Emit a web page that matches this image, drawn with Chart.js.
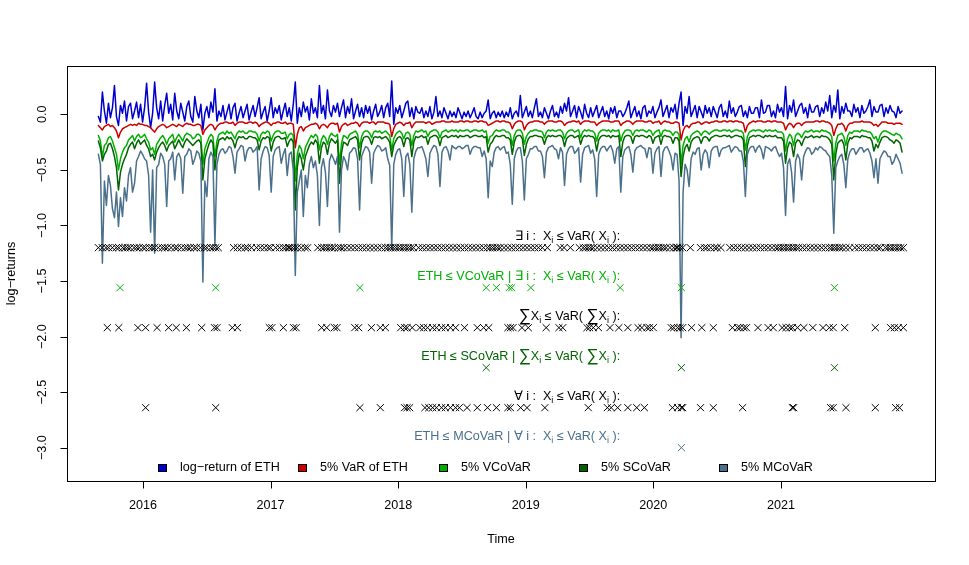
<!DOCTYPE html>
<html>
<head>
<meta charset="utf-8">
<script src="https://cdn.jsdelivr.net/npm/chart.js@4.4.1/dist/chart.umd.min.js"></script>
<style>
  html, body { margin: 0; padding: 0; background: #fff; }
  canvas { display: block; }
</style>
</head>
<body>
<canvas id="covarChart" width="969" height="565"></canvas>
<script>
// time index (decimal years), one point every ~5.75 days
const startYear = 2015.65
const stepYear = 0.01575
const yearTicks = [2016, 2017, 2018, 2019, 2020, 2021]
const valueTicks = [0, -0.5, -1, -1.5, -2, -2.5, -3]
const valueTickLabels = ['0.0', '\u22120.5', '\u22121.0', '\u22121.5', '\u22122.0', '\u22122.5', '\u22123.0']

const ethReturn = [
  -0.02, -0.07, 0.20, 0.03, -0.08, 0.10, -0.03, 0.06, 0.26, -0.02, -0.10, 0.08, 0.01, 0.12, -0.06, 0.07, 0.10, -0.04, 0.03, 0.11,
  -0.03, 0.09, -0.07, 0.06, 0.28, 0.02, -0.12, 0.01, 0.29, 0.06, -0.04, 0.12, -0.06, 0.08, 0.19, 0.01, 0.09, -0.05, 0.19, 0.03,
  -0.04, 0.10, 0.02, -0.06, 0.07, 0.12, -0.02, -0.07, 0.16, 0.03, -0.03, 0.09, -0.14, 0.01, 0.07, -0.03, 0.11, 0.02, 0.23, -0.06,
  0.03, -0.02, 0.08, -0.05, 0.02, 0.09, -0.04, 0.06, 0.10, -0.06, 0.01, 0.07, -0.03, 0.03, 0.09, -0.05, 0.02, 0.08, -0.02, 0.06,
  0.15, -0.04, 0.02, 0.07, -0.06, 0.03, 0.15, -0.03, 0.06, 0.01, 0.08, -0.05, 0.03, 0.10, -0.02, 0.06, -0.06, 0.09, 0.29, -0.08,
  0.06, -0.02, 0.11, 0.02, 0.07, -0.05, 0.14, 0.01, 0.06, -0.03, 0.26, 0.01, 0.08, -0.04, 0.22, 0.03, -0.02, 0.08, 0.02, 0.10,
  -0.02, 0.06, 0.13, -0.03, 0.07, 0.01, 0.14, -0.04, 0.03, 0.09, -0.02, 0.06, -0.03, 0.08, 0.01, 0.07, -0.05, 0.03, 0.09, -0.02,
  0.02, 0.08, -0.03, 0.06, 0.10, -0.02, 0.30, -0.09, 0.06, 0.01, 0.08, -0.03, 0.03, 0.10, 0.12, -0.02, 0.06, -0.04, 0.07, 0.02,
  0.01, 0.06, -0.03, 0.03, -0.02, 0.07, -0.04, 0.02, 0.16, -0.02, 0.03, -0.03, 0.06, 0.01, -0.04, 0.03, -0.02, 0.02, -0.03, 0.06,
  0.01, -0.04, 0.02, -0.02, 0.03, -0.03, 0.01, 0.06, -0.02, -0.04, 0.02, -0.03, 0.01, 0.03, 0.13, -0.04, 0.01, 0.03, -0.03, 0.02,
  -0.02, 0.03, -0.03, 0.02, -0.02, 0.06, -0.04, 0.01, 0.03, -0.02, 0.17, -0.03, 0.02, 0.07, -0.02, 0.03, -0.03, 0.06, 0.14, -0.02,
  0.02, -0.03, 0.06, 0.01, -0.04, 0.03, 0.08, -0.02, 0.02, -0.03, 0.07, 0.01, 0.10, 0.03, 0.15, -0.02, 0.03, 0.08, -0.03, 0.07,
  0.02, -0.04, 0.09, 0.01, -0.03, 0.06, -0.02, 0.03, 0.08, -0.03, 0.02, 0.07, -0.02, 0.03, -0.04, 0.06, 0.01, 0.07, -0.03, 0.03,
  0.03, -0.02, 0.01, 0.06, 0.12, -0.03, 0.02, 0.07, -0.02, 0.03, -0.04, 0.06, 0.08, -0.02, 0.03, 0.01, 0.07, -0.03, 0.02, 0.06,
  0.13, -0.02, 0.03, 0.08, -0.03, 0.06, 0.02, 0.09, -0.04, 0.10, 0.20, -0.10, 0.07, 0.01, 0.16, -0.02, 0.03, 0.08, -0.03, 0.07,
  0.02, -0.03, 0.08, 0.01, 0.06, -0.02, 0.07, 0.02, -0.03, 0.06, 0.09, -0.02, 0.03, -0.03, 0.12, 0.01, 0.06, -0.02, 0.02, 0.07,
  0.08, -0.02, 0.03, -0.03, 0.07, 0.01, 0.01, 0.06, 0.06, -0.03, 0.13, 0.01, 0.02, 0.08, 0.08, -0.02, 0.03, -0.03, 0.09, 0.02,
  0.06, -0.02, 0.25, -0.04, 0.08, 0.02, 0.13, -0.02, 0.03, 0.08, 0.10, 0.01, 0.06, -0.03, 0.09, 0.02, 0.02, 0.07, 0.08, -0.02,
  0.06, 0.01, 0.11, 0.03, 0.17, -0.03, 0.08, 0.02, 0.22, -0.04, 0.07, 0.01, 0.10, 0.03, 0.03, -0.02, 0.09, 0.02, 0.06, -0.03,
  0.08, 0.01, 0.03, 0.07, 0.13, -0.02, 0.07, 0.02, 0.02, 0.08, 0.09, -0.02, 0.06, 0.01, 0.08, 0.03, 0.02, -0.03, 0.07, 0.01,
  0.03
]

const varEth = [
  -0.10, -0.12, -0.14, -0.11, -0.10, -0.09, -0.11, -0.10, -0.12, -0.15, -0.21, -0.16, -0.13, -0.12, -0.11, -0.10, -0.09, -0.10, -0.09, -0.10,
  -0.08, -0.09, -0.09, -0.10, -0.10, -0.11, -0.12, -0.14, -0.16, -0.13, -0.11, -0.10, -0.09, -0.10, -0.12, -0.11, -0.10, -0.09, -0.10, -0.11,
  -0.09, -0.10, -0.11, -0.09, -0.08, -0.09, -0.09, -0.10, -0.10, -0.09, -0.09, -0.10, -0.18, -0.14, -0.12, -0.10, -0.09, -0.10, -0.14, -0.11,
  -0.09, -0.08, -0.08, -0.07, -0.07, -0.08, -0.08, -0.07, -0.10, -0.08, -0.07, -0.07, -0.07, -0.08, -0.08, -0.07, -0.07, -0.08, -0.07, -0.08,
  -0.11, -0.09, -0.08, -0.07, -0.07, -0.08, -0.10, -0.08, -0.08, -0.07, -0.07, -0.08, -0.08, -0.07, -0.09, -0.08, -0.08, -0.09, -0.30, -0.18,
  -0.12, -0.11, -0.15, -0.12, -0.11, -0.10, -0.09, -0.09, -0.08, -0.09, -0.13, -0.10, -0.09, -0.10, -0.12, -0.09, -0.08, -0.08, -0.09, -0.08,
  -0.16, -0.11, -0.09, -0.08, -0.10, -0.09, -0.08, -0.08, -0.07, -0.08, -0.11, -0.08, -0.07, -0.07, -0.07, -0.08, -0.07, -0.07, -0.09, -0.07,
  -0.07, -0.07, -0.07, -0.08, -0.08, -0.09, -0.20, -0.13, -0.09, -0.08, -0.07, -0.08, -0.10, -0.08, -0.08, -0.07, -0.12, -0.09, -0.07, -0.07,
  -0.07, -0.07, -0.07, -0.08, -0.07, -0.07, -0.09, -0.08, -0.07, -0.07, -0.07, -0.06, -0.06, -0.07, -0.07, -0.07, -0.06, -0.07, -0.07, -0.07,
  -0.06, -0.06, -0.07, -0.06, -0.06, -0.07, -0.07, -0.06, -0.06, -0.07, -0.06, -0.06, -0.07, -0.07, -0.10, -0.09, -0.08, -0.07, -0.06, -0.06,
  -0.07, -0.06, -0.06, -0.07, -0.07, -0.08, -0.13, -0.09, -0.07, -0.06, -0.06, -0.07, -0.14, -0.10, -0.08, -0.07, -0.07, -0.06, -0.06, -0.06,
  -0.07, -0.07, -0.09, -0.07, -0.06, -0.06, -0.06, -0.07, -0.07, -0.06, -0.06, -0.07, -0.10, -0.08, -0.07, -0.07, -0.06, -0.06, -0.07, -0.06,
  -0.09, -0.07, -0.06, -0.06, -0.06, -0.07, -0.07, -0.07, -0.10, -0.08, -0.07, -0.06, -0.06, -0.06, -0.06, -0.07, -0.07, -0.06, -0.06, -0.06,
  -0.10, -0.08, -0.07, -0.06, -0.06, -0.07, -0.09, -0.07, -0.06, -0.06, -0.06, -0.06, -0.07, -0.07, -0.06, -0.06, -0.08, -0.07, -0.07, -0.06,
  -0.09, -0.07, -0.06, -0.07, -0.07, -0.08, -0.08, -0.07, -0.07, -0.08, -0.23, -0.15, -0.11, -0.10, -0.12, -0.09, -0.08, -0.08, -0.07, -0.07,
  -0.09, -0.08, -0.07, -0.07, -0.08, -0.07, -0.07, -0.06, -0.06, -0.07, -0.07, -0.06, -0.06, -0.07, -0.06, -0.06, -0.07, -0.06, -0.06, -0.07,
  -0.07, -0.08, -0.16, -0.10, -0.08, -0.07, -0.06, -0.07, -0.06, -0.06, -0.06, -0.07, -0.07, -0.06, -0.06, -0.07, -0.06, -0.06, -0.07, -0.07,
  -0.07, -0.08, -0.14, -0.10, -0.08, -0.09, -0.12, -0.09, -0.08, -0.08, -0.10, -0.08, -0.07, -0.07, -0.07, -0.07, -0.07, -0.06, -0.06, -0.07,
  -0.06, -0.06, -0.07, -0.07, -0.08, -0.10, -0.19, -0.13, -0.09, -0.09, -0.08, -0.10, -0.15, -0.10, -0.08, -0.08, -0.07, -0.07, -0.07, -0.07,
  -0.06, -0.07, -0.07, -0.07, -0.07, -0.08, -0.10, -0.09, -0.11, -0.09, -0.07, -0.07, -0.07, -0.08, -0.08, -0.08, -0.09, -0.08, -0.08, -0.08,
  -0.09
]

const vCoVaR = [
  -0.19, -0.24, -0.38, -0.28, -0.26, -0.21, -0.20, -0.24, -0.30, -0.36, -0.50, -0.40, -0.34, -0.30, -0.28, -0.23, -0.21, -0.19, -0.24, -0.20,
  -0.18, -0.21, -0.20, -0.18, -0.22, -0.25, -0.32, -0.30, -0.36, -0.27, -0.24, -0.21, -0.19, -0.22, -0.27, -0.22, -0.20, -0.18, -0.25, -0.21,
  -0.18, -0.21, -0.24, -0.19, -0.17, -0.18, -0.19, -0.22, -0.21, -0.18, -0.18, -0.20, -0.45, -0.31, -0.26, -0.21, -0.18, -0.20, -0.38, -0.24,
  -0.18, -0.17, -0.16, -0.18, -0.15, -0.17, -0.16, -0.19, -0.22, -0.17, -0.15, -0.16, -0.15, -0.17, -0.17, -0.15, -0.15, -0.16, -0.16, -0.18,
  -0.24, -0.18, -0.16, -0.17, -0.15, -0.16, -0.24, -0.19, -0.16, -0.15, -0.15, -0.17, -0.17, -0.16, -0.22, -0.18, -0.17, -0.19, -0.60, -0.36,
  -0.28, -0.31, -0.40, -0.30, -0.26, -0.22, -0.19, -0.21, -0.18, -0.20, -0.32, -0.23, -0.19, -0.21, -0.27, -0.20, -0.17, -0.19, -0.20, -0.18,
  -0.45, -0.26, -0.19, -0.20, -0.22, -0.18, -0.17, -0.16, -0.15, -0.18, -0.30, -0.20, -0.16, -0.15, -0.15, -0.17, -0.21, -0.16, -0.15, -0.16,
  -0.15, -0.17, -0.16, -0.15, -0.17, -0.19, -0.32, -0.22, -0.18, -0.16, -0.15, -0.17, -0.22, -0.17, -0.16, -0.18, -0.28, -0.19, -0.15, -0.16,
  -0.15, -0.14, -0.16, -0.15, -0.20, -0.16, -0.15, -0.14, -0.14, -0.16, -0.21, -0.16, -0.15, -0.14, -0.16, -0.15, -0.14, -0.15, -0.14, -0.16,
  -0.14, -0.15, -0.15, -0.14, -0.14, -0.16, -0.15, -0.14, -0.14, -0.15, -0.15, -0.14, -0.16, -0.15, -0.26, -0.20, -0.19, -0.16, -0.14, -0.15,
  -0.15, -0.14, -0.14, -0.16, -0.16, -0.18, -0.28, -0.19, -0.15, -0.14, -0.14, -0.17, -0.27, -0.20, -0.17, -0.15, -0.15, -0.14, -0.14, -0.15,
  -0.15, -0.16, -0.21, -0.16, -0.14, -0.15, -0.14, -0.15, -0.15, -0.14, -0.14, -0.16, -0.22, -0.17, -0.15, -0.14, -0.14, -0.16, -0.15, -0.14,
  -0.21, -0.16, -0.14, -0.15, -0.14, -0.15, -0.15, -0.17, -0.24, -0.17, -0.15, -0.14, -0.14, -0.15, -0.14, -0.16, -0.14, -0.15, -0.15, -0.14,
  -0.24, -0.18, -0.15, -0.14, -0.14, -0.15, -0.19, -0.15, -0.14, -0.15, -0.14, -0.14, -0.15, -0.16, -0.14, -0.15, -0.19, -0.16, -0.15, -0.14,
  -0.20, -0.15, -0.14, -0.15, -0.15, -0.16, -0.19, -0.16, -0.16, -0.18, -0.45, -0.28, -0.22, -0.20, -0.25, -0.19, -0.17, -0.16, -0.15, -0.16,
  -0.19, -0.16, -0.15, -0.16, -0.18, -0.16, -0.15, -0.14, -0.14, -0.15, -0.15, -0.14, -0.14, -0.15, -0.14, -0.16, -0.15, -0.14, -0.14, -0.15,
  -0.15, -0.17, -0.32, -0.20, -0.16, -0.15, -0.14, -0.15, -0.14, -0.14, -0.15, -0.16, -0.14, -0.15, -0.14, -0.15, -0.15, -0.14, -0.16, -0.16,
  -0.16, -0.18, -0.33, -0.22, -0.18, -0.20, -0.28, -0.19, -0.17, -0.18, -0.21, -0.17, -0.15, -0.16, -0.15, -0.14, -0.16, -0.15, -0.15, -0.16,
  -0.14, -0.15, -0.15, -0.16, -0.17, -0.20, -0.42, -0.26, -0.19, -0.18, -0.17, -0.20, -0.28, -0.19, -0.16, -0.17, -0.15, -0.15, -0.15, -0.16,
  -0.14, -0.15, -0.15, -0.16, -0.16, -0.18, -0.22, -0.20, -0.25, -0.19, -0.16, -0.15, -0.15, -0.16, -0.17, -0.18, -0.19, -0.17, -0.18, -0.19,
  -0.22
]

const sCoVaR = [
  -0.24, -0.30, -0.42, -0.36, -0.33, -0.27, -0.26, -0.31, -0.38, -0.48, -0.68, -0.52, -0.45, -0.40, -0.36, -0.30, -0.27, -0.25, -0.31, -0.26,
  -0.23, -0.27, -0.25, -0.23, -0.28, -0.31, -0.38, -0.36, -0.41, -0.34, -0.30, -0.27, -0.25, -0.28, -0.33, -0.28, -0.26, -0.24, -0.31, -0.27,
  -0.23, -0.27, -0.30, -0.25, -0.22, -0.24, -0.26, -0.28, -0.26, -0.24, -0.23, -0.26, -0.59, -0.40, -0.33, -0.27, -0.23, -0.26, -0.50, -0.31,
  -0.23, -0.22, -0.21, -0.23, -0.20, -0.22, -0.21, -0.24, -0.30, -0.23, -0.20, -0.21, -0.20, -0.22, -0.22, -0.20, -0.20, -0.21, -0.21, -0.23,
  -0.32, -0.24, -0.21, -0.22, -0.20, -0.21, -0.33, -0.25, -0.21, -0.20, -0.20, -0.22, -0.22, -0.21, -0.29, -0.24, -0.22, -0.25, -0.86, -0.48,
  -0.35, -0.40, -0.50, -0.38, -0.33, -0.28, -0.25, -0.27, -0.23, -0.26, -0.44, -0.30, -0.25, -0.27, -0.36, -0.26, -0.22, -0.24, -0.26, -0.23,
  -0.62, -0.35, -0.25, -0.26, -0.28, -0.23, -0.22, -0.21, -0.20, -0.23, -0.41, -0.26, -0.21, -0.20, -0.20, -0.22, -0.27, -0.21, -0.20, -0.21,
  -0.20, -0.22, -0.21, -0.20, -0.22, -0.25, -0.38, -0.28, -0.24, -0.21, -0.20, -0.22, -0.29, -0.22, -0.21, -0.23, -0.38, -0.25, -0.20, -0.21,
  -0.20, -0.19, -0.21, -0.20, -0.27, -0.21, -0.20, -0.19, -0.19, -0.21, -0.28, -0.21, -0.20, -0.19, -0.21, -0.20, -0.19, -0.20, -0.19, -0.21,
  -0.19, -0.20, -0.20, -0.19, -0.19, -0.21, -0.20, -0.19, -0.19, -0.20, -0.20, -0.19, -0.21, -0.20, -0.34, -0.27, -0.25, -0.21, -0.19, -0.20,
  -0.20, -0.19, -0.19, -0.21, -0.21, -0.23, -0.36, -0.25, -0.20, -0.19, -0.19, -0.22, -0.37, -0.27, -0.22, -0.20, -0.20, -0.19, -0.19, -0.20,
  -0.20, -0.21, -0.27, -0.21, -0.19, -0.20, -0.19, -0.20, -0.20, -0.19, -0.19, -0.21, -0.29, -0.22, -0.20, -0.19, -0.19, -0.21, -0.20, -0.19,
  -0.27, -0.21, -0.19, -0.20, -0.19, -0.20, -0.20, -0.22, -0.33, -0.23, -0.20, -0.19, -0.19, -0.20, -0.19, -0.21, -0.19, -0.20, -0.20, -0.19,
  -0.38, -0.25, -0.20, -0.19, -0.19, -0.20, -0.26, -0.20, -0.19, -0.20, -0.19, -0.19, -0.20, -0.21, -0.19, -0.20, -0.26, -0.21, -0.20, -0.19,
  -0.27, -0.20, -0.19, -0.20, -0.20, -0.21, -0.26, -0.21, -0.21, -0.24, -0.56, -0.38, -0.30, -0.27, -0.33, -0.25, -0.22, -0.21, -0.20, -0.21,
  -0.26, -0.21, -0.20, -0.21, -0.24, -0.21, -0.20, -0.19, -0.19, -0.20, -0.20, -0.19, -0.19, -0.20, -0.19, -0.21, -0.20, -0.19, -0.19, -0.20,
  -0.20, -0.23, -0.47, -0.28, -0.21, -0.20, -0.19, -0.20, -0.19, -0.19, -0.20, -0.21, -0.19, -0.20, -0.19, -0.20, -0.20, -0.19, -0.21, -0.21,
  -0.21, -0.24, -0.44, -0.30, -0.25, -0.27, -0.38, -0.26, -0.23, -0.24, -0.28, -0.23, -0.20, -0.21, -0.20, -0.19, -0.21, -0.20, -0.20, -0.21,
  -0.19, -0.20, -0.20, -0.21, -0.23, -0.27, -0.59, -0.36, -0.26, -0.24, -0.23, -0.27, -0.41, -0.26, -0.21, -0.22, -0.20, -0.20, -0.20, -0.21,
  -0.19, -0.20, -0.20, -0.21, -0.21, -0.24, -0.33, -0.27, -0.30, -0.25, -0.21, -0.20, -0.20, -0.21, -0.23, -0.24, -0.26, -0.23, -0.24, -0.26,
  -0.34
]

const mCoVaR = [
  -0.36, -0.45, -1.34, -0.60, -0.82, -0.55, -0.64, -0.85, -0.93, -0.70, -1.01, -0.75, -0.92, -0.66, -0.78, -0.55, -0.48, -0.70, -0.62, -0.42,
  -0.38, -0.33, -0.36, -0.40, -0.42, -0.55, -1.06, -0.50, -1.25, -0.48, -0.45, -0.35, -0.38, -0.45, -0.83, -0.42, -0.40, -0.34, -0.59, -0.38,
  -0.35, -0.40, -0.71, -0.38, -0.36, -0.31, -0.33, -0.45, -0.40, -0.33, -0.35, -0.42, -1.51, -0.60, -0.74, -0.40, -0.34, -0.38, -1.18, -0.45,
  -0.36, -0.32, -0.31, -0.35, -0.33, -0.29, -0.30, -0.38, -0.53, -0.34, -0.31, -0.28, -0.29, -0.42, -0.33, -0.30, -0.30, -0.34, -0.32, -0.29,
  -0.68, -0.40, -0.33, -0.29, -0.30, -0.37, -0.70, -0.38, -0.32, -0.30, -0.29, -0.44, -0.36, -0.31, -0.55, -0.36, -0.34, -0.50, -1.45, -0.70,
  -0.60, -0.50, -0.92, -0.55, -0.66, -0.45, -0.38, -0.48, -0.42, -0.55, -1.00, -0.48, -0.40, -0.52, -0.83, -0.42, -0.36, -0.40, -0.45, -0.38,
  -1.06, -0.50, -0.38, -0.42, -0.50, -0.35, -0.33, -0.30, -0.31, -0.40, -0.86, -0.38, -0.33, -0.29, -0.30, -0.34, -0.62, -0.35, -0.31, -0.28,
  -0.29, -0.33, -0.32, -0.30, -0.40, -0.46, -1.20, -0.45, -0.36, -0.32, -0.31, -0.40, -0.74, -0.38, -0.35, -0.45, -0.88, -0.40, -0.33, -0.30,
  -0.30, -0.29, -0.34, -0.40, -0.56, -0.35, -0.31, -0.28, -0.29, -0.36, -0.65, -0.34, -0.30, -0.29, -0.33, -0.41, -0.28, -0.30, -0.31, -0.29,
  -0.29, -0.31, -0.30, -0.28, -0.28, -0.36, -0.31, -0.29, -0.29, -0.30, -0.30, -0.38, -0.33, -0.40, -0.75, -0.42, -0.47, -0.34, -0.30, -0.29,
  -0.32, -0.30, -0.29, -0.35, -0.34, -0.45, -0.81, -0.40, -0.33, -0.30, -0.30, -0.42, -0.77, -0.40, -0.36, -0.31, -0.31, -0.29, -0.29, -0.33,
  -0.33, -0.38, -0.57, -0.34, -0.30, -0.29, -0.28, -0.31, -0.32, -0.40, -0.30, -0.34, -0.64, -0.36, -0.31, -0.29, -0.29, -0.35, -0.33, -0.30,
  -0.61, -0.36, -0.30, -0.29, -0.28, -0.35, -0.32, -0.40, -0.74, -0.36, -0.31, -0.29, -0.29, -0.33, -0.30, -0.28, -0.33, -0.44, -0.31, -0.29,
  -0.70, -0.38, -0.32, -0.30, -0.29, -0.36, -0.52, -0.33, -0.30, -0.29, -0.28, -0.30, -0.31, -0.39, -0.30, -0.31, -0.53, -0.35, -0.31, -0.29,
  -0.56, -0.34, -0.30, -0.29, -0.33, -0.38, -0.50, -0.35, -0.36, -0.60, -2.01, -0.70, -0.45, -0.50, -0.65, -0.40, -0.34, -0.36, -0.31, -0.30,
  -0.50, -0.36, -0.32, -0.35, -0.48, -0.33, -0.30, -0.29, -0.29, -0.38, -0.32, -0.30, -0.30, -0.29, -0.28, -0.34, -0.31, -0.29, -0.30, -0.33,
  -0.33, -0.42, -0.74, -0.36, -0.31, -0.29, -0.29, -0.34, -0.30, -0.28, -0.32, -0.40, -0.29, -0.30, -0.31, -0.33, -0.30, -0.29, -0.34, -0.38,
  -0.35, -0.48, -0.91, -0.45, -0.40, -0.52, -0.79, -0.42, -0.36, -0.40, -0.59, -0.38, -0.33, -0.30, -0.31, -0.36, -0.34, -0.30, -0.32, -0.29,
  -0.30, -0.32, -0.33, -0.36, -0.38, -0.55, -1.07, -0.48, -0.42, -0.38, -0.36, -0.45, -0.66, -0.40, -0.34, -0.31, -0.31, -0.36, -0.33, -0.30,
  -0.30, -0.34, -0.32, -0.31, -0.35, -0.42, -0.57, -0.40, -0.62, -0.40, -0.36, -0.33, -0.34, -0.38, -0.38, -0.45, -0.42, -0.36, -0.40, -0.44,
  -0.53
]

// exceedance dates (decimal years) for each condition row
const existsDates = [
  2015.65, 2015.68, 2015.71, 2015.73, 2015.76, 2015.79, 2015.81, 2015.84, 2015.86, 2015.88,
  2015.90, 2015.93, 2015.95, 2015.97, 2016.00, 2016.02, 2016.05, 2016.07, 2016.09, 2016.12,
  2016.15, 2016.17, 2016.19, 2016.22, 2016.25, 2016.27, 2016.30, 2016.33, 2016.35, 2016.37,
  2016.40, 2016.42, 2016.45, 2016.48, 2016.50, 2016.53, 2016.55, 2016.57, 2016.59,
  2016.71, 2016.74, 2016.77, 2016.80, 2016.82, 2016.85,
  2016.89, 2016.92, 2016.95, 2016.98, 2017.00, 2017.04,
  2017.07, 2017.10, 2017.12, 2017.14, 2017.15, 2017.17, 2017.19, 2017.21, 2017.24, 2017.27, 2017.29,
  2017.37, 2017.40, 2017.42, 2017.44, 2017.46, 2017.48, 2017.50, 2017.53, 2017.55, 2017.57,
  2017.60, 2017.63, 2017.66, 2017.69, 2017.72, 2017.75, 2017.78, 2017.81, 2017.84, 2017.87,
  2017.90, 2017.92, 2017.94, 2017.96, 2017.98, 2018.00, 2018.02, 2018.04, 2018.06, 2018.08,
  2018.10, 2018.12,
  2018.16, 2018.19, 2018.22, 2018.25, 2018.28, 2018.31, 2018.34, 2018.37, 2018.40, 2018.43,
  2018.46, 2018.49, 2018.52, 2018.55, 2018.58, 2018.61, 2018.64, 2018.67, 2018.70, 2018.72,
  2018.74, 2018.76, 2018.78, 2018.80, 2018.83, 2018.86, 2018.89, 2018.92, 2018.95, 2018.98,
  2019.01, 2019.04, 2019.07, 2019.10, 2019.13,
  2019.17,
  2019.27, 2019.30, 2019.35,
  2019.42, 2019.45, 2019.47, 2019.49, 2019.51, 2019.53, 2019.56, 2019.59, 2019.62, 2019.65,
  2019.68, 2019.71, 2019.74, 2019.77, 2019.80, 2019.83, 2019.86, 2019.89, 2019.92, 2019.95,
  2019.98, 2020.00, 2020.02, 2020.04, 2020.06, 2020.08, 2020.10, 2020.13, 2020.16, 2020.18,
  2020.19, 2020.21, 2020.23,
  2020.29,
  2020.37, 2020.40, 2020.42, 2020.45, 2020.48, 2020.50, 2020.53,
  2020.60, 2020.63, 2020.66, 2020.69, 2020.72, 2020.75, 2020.78,
  2020.81, 2020.84, 2020.87, 2020.90, 2020.93, 2020.96, 2020.98, 2021.00, 2021.02, 2021.04,
  2021.06, 2021.08, 2021.10, 2021.12, 2021.14, 2021.17, 2021.20, 2021.23, 2021.26, 2021.29,
  2021.32, 2021.35, 2021.38, 2021.40, 2021.42, 2021.44, 2021.46, 2021.48, 2021.51, 2021.54,
  2021.58, 2021.61, 2021.64, 2021.67, 2021.70, 2021.73, 2021.76, 2021.78,
  2021.82, 2021.84, 2021.86, 2021.88, 2021.90, 2021.92, 2021.94, 2021.96
]
const vHitDates = [2015.82, 2016.57, 2017.70, 2018.69, 2018.77, 2018.87, 2018.89, 2019.04, 2019.74, 2020.22, 2021.42]
const sumDates = [
  2015.72, 2015.81, 2015.96, 2016.02, 2016.11, 2016.20, 2016.26, 2016.34, 2016.46, 2016.56,
  2016.58, 2016.70, 2016.74, 2016.99, 2017.01, 2017.10, 2017.18, 2017.20, 2017.40, 2017.44,
  2017.50, 2017.52, 2017.66, 2017.69, 2017.79, 2017.86, 2017.90, 2018.02, 2018.05, 2018.07,
  2018.11, 2018.17, 2018.20, 2018.23, 2018.27, 2018.30, 2018.34, 2018.37, 2018.41, 2018.45,
  2018.52, 2018.62, 2018.67, 2018.71, 2018.86, 2018.88, 2018.90, 2018.97, 2019.02, 2019.16,
  2019.26, 2019.29, 2019.48, 2019.50, 2019.53, 2019.57, 2019.66, 2019.73, 2019.80, 2019.88,
  2019.91, 2019.95, 2019.97, 2020.00, 2020.14, 2020.16, 2020.19, 2020.21, 2020.23, 2020.30,
  2020.38, 2020.47, 2020.62, 2020.66, 2020.68, 2020.71, 2020.73, 2020.82, 2020.90, 2020.94,
  2021.01, 2021.04, 2021.07, 2021.09, 2021.13, 2021.18, 2021.25, 2021.33, 2021.38, 2021.41,
  2021.50, 2021.74, 2021.86, 2021.89, 2021.92, 2021.96
]
const sHitDates = [2018.69, 2020.22, 2021.42]
const allDates = [
  2016.02, 2016.57, 2017.70, 2017.86, 2018.05, 2018.07, 2018.09, 2018.21, 2018.24, 2018.27,
  2018.30, 2018.34, 2018.37, 2018.41, 2018.45, 2018.48, 2018.54, 2018.62, 2018.70, 2018.77,
  2018.86, 2018.88, 2018.96, 2019.01, 2019.15, 2019.49, 2019.64, 2019.67, 2019.72, 2019.80,
  2019.87, 2019.93, 2020.15, 2020.19, 2020.22, 2020.23, 2020.37, 2020.47, 2020.70, 2021.09,
  2021.10, 2021.39, 2021.41, 2021.51, 2021.74, 2021.90, 2021.93
]
const mHitDates = [2020.22]

// height at which each row of crosses is drawn
const rowLevels = [-1.2, -1.56, -1.92, -2.28, -2.64, -3.0]

const seriesNames = ['log\u2212return of ETH', '5% VaR of ETH', '5% VCoVaR', '5% SCoVaR', '5% MCoVaR']
const seriesColors = ['#0000CD', '#CD0000', '#00B000', '#006400', '#4A708B']

const FONT = '"Liberation Sans", Arial, Helvetica, sans-serif'
const FS = 12.6

const dates = ethReturn.map((_, i) => startYear + i * stepYear)
const toPoints = arr => arr.map((v, i) => ({ x: dates[i], y: v }))
const toRow = (ds, level) => ds.map(d => ({ x: d, y: level }))

function lineSet(label, arr, color, order) {
  return {
    label: label,
    data: toPoints(arr),
    borderColor: color,
    borderWidth: 1.5,
    borderJoinStyle: 'round',
    borderCapStyle: 'round',
    pointRadius: 0,
    fill: false,
    tension: 0,
    order: order
  }
}

function crossSet(ds, level, color) {
  return {
    data: toRow(ds, level),
    showLine: false,
    pointStyle: 'crossRot',
    pointRadius: 5,
    pointBorderWidth: 1,
    pointBorderColor: color,
    pointBackgroundColor: color,
    borderColor: color,
    order: 0
  }
}

// R-style math labels: [text, kind] with kind n=normal, s=subscript, b=big sum
const EXISTS = [['\u2203 i :  X'], ['i', 's'], [' \u2264 VaR( X'], ['i', 's'], [' ):']]
const SUM = [['\u2211', 'b'], ['X'], ['i', 's'], [' \u2264 VaR( '], ['\u2211', 'b'], ['X'], ['i', 's'], [' ):']]
const FORALL = [['\u2200 i :  X'], ['i', 's'], [' \u2264 VaR( X'], ['i', 's'], [' ):']]

const rowLabels = [
  { pieces: EXISTS, color: '#000000' },
  { pieces: [['ETH \u2264 VCoVaR | ']].concat(EXISTS), color: seriesColors[2] },
  { pieces: SUM, color: '#000000' },
  { pieces: [['ETH \u2264 SCoVaR | ']].concat(SUM), color: seriesColors[3] },
  { pieces: FORALL, color: '#000000' },
  { pieces: [['ETH \u2264 MCoVaR | ']].concat(FORALL), color: seriesColors[4] }
]

function drawMath(ctx, pieces, xRight, yMid, color) {
  const fonts = {
    n: FS + 'px ' + FONT,
    s: (FS * 0.72) + 'px ' + FONT,
    b: (FS * 1.35) + 'px ' + FONT
  }
  let w = 0
  pieces.forEach(p => { ctx.font = fonts[p[1] || 'n']; w += ctx.measureText(p[0]).width })
  let x = xRight - w
  ctx.fillStyle = color
  ctx.textAlign = 'left'
  ctx.textBaseline = 'middle'
  pieces.forEach(p => {
    const k = p[1] || 'n'
    ctx.font = fonts[k]
    const dy = k === 's' ? 4 : (k === 'b' ? 0.5 : 0)
    ctx.fillText(p[0], x, yMid + dy)
    x += ctx.measureText(p[0]).width
  })
}

// draws the base-graphics frame: box, axes, labels, legend, row captions
const baseFrame = {
  id: 'baseFrame',
  afterDraw(chart) {
    const ctx = chart.ctx
    const a = chart.chartArea
    const xs = chart.scales.x
    const ys = chart.scales.y
    const L = Math.round(a.left) + 0.5, R = Math.round(a.right) + 0.5
    const T = Math.round(a.top) + 0.5, B = Math.round(a.bottom) + 0.5

    ctx.save()
    ctx.strokeStyle = '#000'
    ctx.lineWidth = 1
    ctx.strokeRect(L, T, R - L, B - T)

    // x axis
    const x0 = Math.round(xs.getPixelForValue(yearTicks[0])) + 0.5
    const x1 = Math.round(xs.getPixelForValue(yearTicks[yearTicks.length - 1])) + 0.5
    ctx.beginPath()
    ctx.moveTo(x0, B); ctx.lineTo(x1, B)
    yearTicks.forEach(t => {
      const px = Math.round(xs.getPixelForValue(t)) + 0.5
      ctx.moveTo(px, B); ctx.lineTo(px, B + 7)
    })
    // y axis
    const y0 = Math.round(ys.getPixelForValue(valueTicks[0])) + 0.5
    const y1 = Math.round(ys.getPixelForValue(valueTicks[valueTicks.length - 1])) + 0.5
    ctx.moveTo(L, y0); ctx.lineTo(L, y1)
    valueTicks.forEach(v => {
      const py = Math.round(ys.getPixelForValue(v)) + 0.5
      ctx.moveTo(L, py); ctx.lineTo(L - 7, py)
    })
    ctx.stroke()

    ctx.fillStyle = '#000'
    ctx.font = FS + 'px ' + FONT
    ctx.textAlign = 'center'
    ctx.textBaseline = 'middle'
    yearTicks.forEach(t => ctx.fillText(String(t), xs.getPixelForValue(t), a.bottom + 25))
    valueTicks.forEach((v, i) => {
      ctx.save()
      ctx.translate(43, ys.getPixelForValue(v))
      ctx.rotate(-Math.PI / 2)
      ctx.fillText(valueTickLabels[i], 0, 0)
      ctx.restore()
    })
    ctx.fillText('Time', (a.left + a.right) / 2, a.bottom + 59)
    ctx.save()
    ctx.translate(12, (a.top + a.bottom) / 2)
    ctx.rotate(-Math.PI / 2)
    ctx.fillText('log\u2212returns', 0, 0)
    ctx.restore()

    // captions above each row of crosses
    const capX = xs.getPixelForValue(2019.74)
    rowLabels.forEach((r, i) => {
      drawMath(ctx, r.pieces, capX, ys.getPixelForValue(rowLevels[i]) - 11.5, r.color)
    })

    // legend inside the plot, bottom
    const legendX = [180, 320, 461, 601, 741]
    const ly = a.bottom - 13
    ctx.font = FS + 'px ' + FONT
    ctx.textAlign = 'left'
    seriesNames.forEach((name, i) => {
      const sx = legendX[i] - 22
      ctx.fillStyle = seriesColors[i]
      ctx.fillRect(sx, ly - 4, 9, 8)
      ctx.strokeStyle = '#000'
      ctx.strokeRect(sx + 0.5, ly - 4 + 0.5, 8, 7)
      ctx.fillStyle = '#000'
      ctx.fillText(name, legendX[i], ly)
    })
    ctx.restore()
  }
}

new Chart(document.getElementById('covarChart').getContext('2d'), {
  type: 'line',
  data: {
    datasets: [
      lineSet(seriesNames[0], ethReturn, seriesColors[0], 5),
      lineSet(seriesNames[1], varEth, seriesColors[1], 4),
      lineSet(seriesNames[2], vCoVaR, seriesColors[2], 3),
      lineSet(seriesNames[3], sCoVaR, seriesColors[3], 2),
      lineSet(seriesNames[4], mCoVaR, seriesColors[4], 1),
      crossSet(existsDates, rowLevels[0], '#000000'),
      crossSet(vHitDates, rowLevels[1], seriesColors[2]),
      crossSet(sumDates, rowLevels[2], '#000000'),
      crossSet(sHitDates, rowLevels[3], seriesColors[3]),
      crossSet(allDates, rowLevels[4], '#000000'),
      crossSet(mHitDates, rowLevels[5], seriesColors[4])
    ]
  },
  options: {
    responsive: false,
    animation: false,
    events: [],
    layout: { padding: { left: 67, top: 66, right: 34, bottom: 84 } },
    scales: {
      x: { type: 'linear', min: 2015.404, max: 2022.208, display: false },
      y: { type: 'linear', min: -3.30, max: 0.435, display: false }
    },
    plugins: {
      legend: { display: false },
      tooltip: { enabled: false }
    }
  },
  plugins: [baseFrame]
})
</script>
</body>
</html>
